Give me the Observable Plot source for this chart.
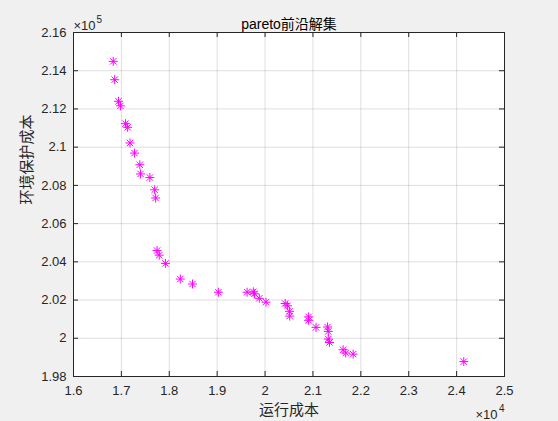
<!DOCTYPE html>
<html>
<head>
<meta charset="utf-8">
<script src="https://cdn.jsdelivr.net/npm/d3@7"></script>
<script src="https://cdn.jsdelivr.net/npm/@observablehq/plot@0.6"></script>
<style>
  html, body { margin: 0; padding: 0; background: #f0f0f0; }
  #chart { width: 558px; height: 421px; }
</style>
</head>
<body>
<div id="chart"></div>
<script>
// Data (运行成本 vs 环境保护成本)
const runCost = [
  16830, 16860, 16940, 16980, 17085, 17130, 17180, 17275, 17385, 17400,
  17595, 17695, 17715, 17745, 17790, 17920, 18230, 18485, 19025, 19625,
  19755, 19780, 19880, 20020, 20420, 20470, 20510, 20515, 20910, 20910,
  21065, 21305, 21320, 21320, 21345, 21630, 21685, 21840, 24150
];
const envCost = [
  214490, 213530, 212400, 212160, 211230, 211040, 210220, 209690, 209080, 208600,
  208410, 207770, 207340, 204590, 204350, 203920, 203100, 202840, 202410, 202410,
  202430, 202330, 202090, 201890, 201820, 201700, 201410, 201160, 201120, 200940,
  200570, 200590, 200360, 199960, 199780, 199400, 199230, 199170, 198780
];
const xTicks = [16000, 17000, 18000, 19000, 20000, 21000, 22000, 23000, 24000, 25000];
const yTicks = [198000, 200000, 202000, 204000, 206000, 208000, 210000, 212000, 214000, 216000];
const titleText = "pareto前沿解集";
const xLabel = "运行成本";
const yLabel = "环境保护成本";
const xExp = "4", yExp = "5";

const points = runCost.map((x, i) => ({x, y: envCost[i]}));

const W = 558, H = 421;
const mL = 73, mR = 54, mT = 32, mB = 45;
const plotW = W - mL - mR, plotH = H - mT - mB;
const tickLen = 5;
const axisColor = "#262626";
const fmt = v => String(+v.toFixed(2));
const cjk = "'Noto Sans CJK SC', sans-serif";

const chart = Plot.plot({
  width: W,
  height: H,
  marginLeft: mL,
  marginRight: mR,
  marginTop: mT,
  marginBottom: mB,
  style: {background: "#f0f0f0", fontFamily: "'Liberation Sans', Arial, 'Noto Sans CJK SC', sans-serif", fontSize: "13px", color: axisColor},
  x: {domain: [16000, 25000]},
  y: {domain: [198000, 216000]},
  marks: [
    Plot.frame({fill: "white", stroke: null}),
    Plot.gridX(xTicks, {stroke: axisColor, strokeOpacity: 0.15}),
    Plot.gridY(yTicks, {stroke: axisColor, strokeOpacity: 0.15}),
    Plot.tickX(xTicks, {x: d => d, insetTop: plotH - tickLen, stroke: axisColor}),
    Plot.tickX(xTicks, {x: d => d, insetBottom: plotH - tickLen, stroke: axisColor}),
    Plot.tickY(yTicks, {y: d => d, insetRight: plotW - tickLen, stroke: axisColor}),
    Plot.tickY(yTicks, {y: d => d, insetLeft: plotW - tickLen, stroke: axisColor}),
    Plot.frame({stroke: axisColor, strokeWidth: 1}),
    Plot.axisX(xTicks, {tickSize: 0, tickPadding: 9, tickFormat: d => fmt(d / 1e4), label: null, fill: axisColor, fontSize: 13}),
    Plot.axisY(yTicks, {tickSize: 0, tickPadding: 7, tickFormat: d => fmt(d / 1e5), label: null, fill: axisColor, fontSize: 13}),
    Plot.dot(points, {x: "x", y: "y", symbol: "plus", r: 3, stroke: "#ff00ff", strokeWidth: 1}),
    Plot.dot(points, {x: "x", y: "y", symbol: "times", r: 3, stroke: "#ff00ff", strokeWidth: 1}),
    Plot.text([titleText], {frameAnchor: "top", dy: -13, text: d => d, fontSize: 14, fill: "#000"}),
    // ×10^5 multiplier above the y axis
    Plot.text(["×10"], {frameAnchor: "top-left", lineAnchor: "bottom", dy: -3, text: d => d, textAnchor: "start", fontSize: 13, fill: axisColor}),
    Plot.text([yExp], {frameAnchor: "top-left", lineAnchor: "bottom", dx: 23, dy: -10, text: d => d, textAnchor: "start", fontSize: 10, fill: axisColor}),
    // ×10^4 multiplier under the x axis
    Plot.text(["×10"], {frameAnchor: "bottom-right", lineAnchor: "bottom", dx: -7, dy: 42, text: d => d, textAnchor: "end", fontSize: 13, fill: axisColor}),
    Plot.text([xExp], {frameAnchor: "bottom-right", lineAnchor: "bottom", dx: 0, dy: 35, text: d => d, textAnchor: "end", fontSize: 10, fill: axisColor}),
    Plot.text([xLabel], {frameAnchor: "bottom", lineAnchor: "middle", dy: 34, text: d => d, fontSize: 15, fill: axisColor, fontFamily: cjk}),
    Plot.text([yLabel], {frameAnchor: "left", dx: -46, rotate: -90, text: d => d, fontSize: 15, fill: axisColor, fontFamily: cjk})
  ]
});
document.getElementById("chart").appendChild(chart);
</script>
</body>
</html>
